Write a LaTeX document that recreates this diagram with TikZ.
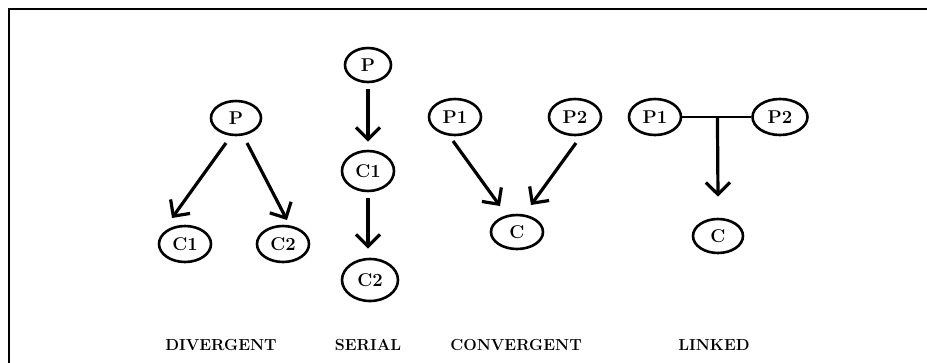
\documentclass[tikz,border=0pt]{standalone}
\usetikzlibrary{shapes.geometric,arrows.meta,calc}
\begin{document}
\begin{tikzpicture}[x=1pt,y=-1pt,
  var/.style={ellipse,draw,line width=2.6pt,inner sep=0pt,
    minimum width=52pt,minimum height=36pt,
    font=\fontsize{18.5}{21}\selectfont\bfseries},
  link/.style={line width=3.2pt,-{Straight Barb[length=12pt,width=24pt,line width=3.2pt]}},
  joint/.style={line width=2.4pt},
  caption/.style={font=\fontsize{16}{19}\selectfont\bfseries}]
\useasboundingbox (0,0) rectangle (927,362);
% frame
\draw[line width=2.6pt] (9,370) |- (935,9);

% divergent
\node[var,minimum width=50pt,minimum height=34pt] (dP) at (236,118) {P};
\node[var] (dC1) at (185,244) {C1};
\node[var] (dC2) at (283,244) {C2};
\draw[link] ([shift={(-10,25)}]dP.center) -- ([shift={(-13,-26)}]dC1.center);
\draw[link] ([shift={(11,25)}]dP.center) -- ([shift={(4,-24)}]dC2.center);
\node[caption] (dL) at (221,345) {DIVERGENT};

% serial
\node[var,minimum width=46pt,minimum height=34pt] (sP) at (368,65) {P};
\node[var,minimum height=40pt] (sC1) at (368,171) {C1};
\node[var,minimum width=56pt,minimum height=42pt] (sC2) at (370,280) {C2};
\draw[link] ([shift={(0,6)}]sP.south) -- ([shift={(0,-8)}]sC1.north);
\draw[link] ([shift={(0,6)}]sC1.south) -- ([shift={(-2,-9)}]sC2.north);
\node[caption] (sL) at (368,345) {SERIAL};

% convergent
\node[var] (cP1) at (455,117) {P1};
\node[var] (cP2) at (575,117) {P2};
\node[var,minimum height=34pt] (cC) at (517,232) {C};
\draw[link] ([shift={(-2,24)}]cP1.center) -- ([shift={(-17,-26)}]cC.center);
\draw[link] ([shift={(1,26)}]cP2.center) -- ([shift={(14,-27)}]cC.center);
\node[caption] (cL) at (516,345) {CONVERGENT};

% linked
\node[var] (lP1) at (655,117) {P1};
\node[var,minimum width=55pt] (lP2) at (780,117) {P2};
\node[var,minimum width=50pt,minimum height=34pt] (lC) at (718,236) {C};
\draw[joint] (lP1.east) -- (lP2.west);
\coordinate (lJ) at ($(lP1.east)!0.51!(lP2.west)$);
\draw[link] (lJ) -- ([shift={(0,-21)}]lC.north);
\node[caption] (lL) at (714,345) {LINKED};
\end{tikzpicture}
\end{document}
